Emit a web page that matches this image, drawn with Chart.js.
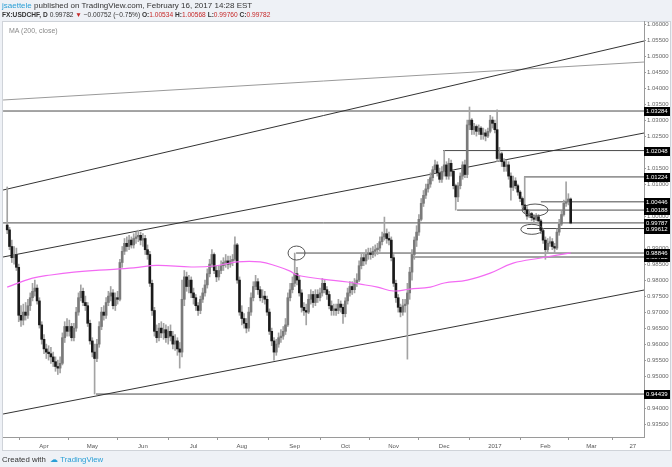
<!DOCTYPE html>
<html>
<head>
<meta charset="utf-8">
<script src="https://cdn.jsdelivr.net/npm/chart.js@4.4.0/dist/chart.umd.min.js"></script>
<style>
  body { margin: 0; width: 672px; height: 467px; background: #eef1f6; overflow: hidden; font-family: "Liberation Sans", Arial, sans-serif; }
  #wrap { position: relative; width: 672px; height: 467px; }
  canvas { position: absolute; left: 0; top: 0; }
  .hdr { position: absolute; left: 2px; color: #333; white-space: nowrap; }
  .red { color: #c62828; }
  .blue { color: #2a9fd6; }
  .ma { position: absolute; left: 9px; top: 27px; font-size: 7px; color: #8a8a8a; }
  .foot { position: absolute; left: 2px; top: 455px; font-size: 7.8px; color: #333; white-space: nowrap; }
</style>
</head>
<body>
<div id="wrap">
  <canvas id="chart" width="672" height="467"></canvas>
  <div class="hdr" style="top:1px; font-size:8px"><span class="blue">jsaettele</span> published on TradingView.com, February 16, 2017 14:28 EST</div>
  <div class="hdr" style="top:11px; font-size:6.6px"><b>FX:USDCHF, D</b> 0.99782 <span class="red">&#9660;</span> &minus;0.00752 (&minus;0.75%) <b>O:</b><span class="red">1.00534</span> <b>H:</b><span class="red">1.00568</span> <b>L:</b><span class="red">0.99760</span> <b>C:</b><span class="red">0.99782</span></div>
  <div class="ma">MA (200, close)</div>
  <div class="foot">Created with &nbsp;<span class="blue">&#9729;</span>&nbsp;<span class="blue">TradingView</span></div>
</div>
<script>
// daily bars, index 0 = 10 Mar 2016, index 245 = 16 Feb 2017
const firstOpen = 0.9972;
const closes = [
  0.9957, 0.9905, 0.9870, 0.9880, 0.9840, 0.9690, 0.9675, 0.9700, 0.9690, 0.9720,
  0.9745, 0.9765, 0.9775, 0.9735, 0.9660, 0.9615, 0.9585, 0.9575, 0.9570, 0.9560,
  0.9545, 0.9530, 0.9525, 0.9540, 0.9620, 0.9655, 0.9640, 0.9655, 0.9620, 0.9650,
  0.9700, 0.9745, 0.9765, 0.9730, 0.9720, 0.9665, 0.9610, 0.9575, 0.9555, 0.9600,
  0.9655, 0.9700, 0.9690, 0.9730, 0.9750, 0.9760, 0.9720, 0.9745, 0.9740, 0.9855,
  0.9890, 0.9915, 0.9905, 0.9925, 0.9910, 0.9930, 0.9935, 0.9940, 0.9925, 0.9930,
  0.9895, 0.9880, 0.9790, 0.9705, 0.9640, 0.9620, 0.9650, 0.9635, 0.9645, 0.9620,
  0.9640, 0.9625, 0.9600, 0.9610, 0.9585, 0.9575, 0.9740, 0.9810, 0.9780, 0.9800,
  0.9760, 0.9745, 0.9720, 0.9705, 0.9740, 0.9760, 0.9785, 0.9820, 0.9850, 0.9880,
  0.9830, 0.9810, 0.9830, 0.9845, 0.9855, 0.9860, 0.9850, 0.9860, 0.9865, 0.9910,
  0.9800, 0.9700, 0.9680, 0.9665, 0.9650, 0.9700, 0.9745, 0.9780, 0.9795, 0.9770,
  0.9745, 0.9750, 0.9740, 0.9700, 0.9640, 0.9610, 0.9575, 0.9600, 0.9620, 0.9625,
  0.9640, 0.9660, 0.9745, 0.9770, 0.9790, 0.9820, 0.9800, 0.9760, 0.9715, 0.9705,
  0.9700, 0.9740, 0.9755, 0.9730, 0.9755, 0.9745, 0.9760, 0.9790, 0.9770, 0.9755,
  0.9720, 0.9705, 0.9710, 0.9705, 0.9725, 0.9715, 0.9695, 0.9735, 0.9760, 0.9780,
  0.9770, 0.9790, 0.9800, 0.9845, 0.9870, 0.9860, 0.9880, 0.9885, 0.9880, 0.9890,
  0.9895, 0.9900, 0.9920, 0.9935, 0.9945, 0.9930, 0.9925, 0.9870, 0.9790, 0.9745,
  0.9715, 0.9700, 0.9720, 0.9725, 0.9760, 0.9825, 0.9880, 0.9925, 0.9950, 0.9990,
  1.0040, 1.0065, 1.0085, 1.0100, 1.0120, 1.0145, 1.0160, 1.0135, 1.0115, 1.0140,
  1.0160, 1.0125, 1.0165, 1.0140, 1.0095, 1.0060, 1.0095, 1.0125, 1.0160, 1.0130,
  1.0285, 1.0300, 1.0270, 1.0280, 1.0265, 1.0275, 1.0255, 1.0260, 1.0250, 1.0265,
  1.0300, 1.0290, 1.0270, 1.0180, 1.0195, 1.0170, 1.0155, 1.0160, 1.0125, 1.0090,
  1.0110, 1.0095, 1.0075, 1.0055, 1.0035, 1.0020, 1.0000, 1.0008, 0.9995, 0.9990,
  0.9998, 0.9985, 0.9955, 0.9925, 0.9895, 0.9915, 0.9920, 0.9905, 0.9900, 0.9950,
  0.9975, 1.0005, 1.0040, 1.0045, 1.00534, 0.99782
];
const highs = [
  1.0091, 0.9965, 0.9925, 0.9905, 0.9900, 0.9850, 0.9720, 0.9725, 0.9730, 0.9740,
  0.9760, 0.9790, 0.9800, 0.9785, 0.9745, 0.9670, 0.9630, 0.9600, 0.9595, 0.9590,
  0.9575, 0.9560, 0.9550, 0.9560, 0.9635, 0.9670, 0.9680, 0.9675, 0.9665, 0.9665,
  0.9715, 0.9760, 0.9785, 0.9775, 0.9750, 0.9730, 0.9675, 0.9620, 0.9600, 0.9615,
  0.9670, 0.9715, 0.9720, 0.9745, 0.9765, 0.9780, 0.9770, 0.9760, 0.9765, 0.9865,
  0.9905, 0.9930, 0.9935, 0.9940, 0.9935, 0.9945, 0.9950, 0.9956, 0.9950, 0.9945,
  0.9940, 0.9910, 0.9890, 0.9800, 0.9715, 0.9660, 0.9665, 0.9670, 0.9665, 0.9660,
  0.9655, 0.9660, 0.9640, 0.9630, 0.9620, 0.9605, 0.9800, 0.9830, 0.9825, 0.9815,
  0.9810, 0.9775, 0.9755, 0.9730, 0.9750, 0.9775, 0.9800, 0.9835, 0.9865, 0.9895,
  0.9885, 0.9845, 0.9845, 0.9860, 0.9870, 0.9880, 0.9875, 0.9875, 0.9880, 0.9935,
  0.9915, 0.9810, 0.9720, 0.9695, 0.9680, 0.9715, 0.9760, 0.9795, 0.9815, 0.9805,
  0.9780, 0.9770, 0.9765, 0.9750, 0.9710, 0.9650, 0.9620, 0.9615, 0.9635, 0.9645,
  0.9655, 0.9680, 0.9760, 0.9790, 0.9810, 0.98846, 0.9840, 0.9815, 0.9770, 0.9730,
  0.9725, 0.9755, 0.9770, 0.9765, 0.9770, 0.9770, 0.9775, 0.9805, 0.9800, 0.9780,
  0.9765, 0.9735, 0.9725, 0.9725, 0.9740, 0.9735, 0.9725, 0.9745, 0.9775, 0.9795,
  0.9795, 0.9805, 0.9820, 0.9860, 0.9885, 0.9885, 0.9895, 0.9900, 0.9900, 0.9905,
  0.9910, 0.9915, 0.9935, 0.9950, 0.9997, 0.9960, 0.9950, 0.9935, 0.9880, 0.9800,
  0.9755, 0.9725, 0.9740, 0.9740, 0.9790, 0.9840, 0.9895, 0.9935, 0.9970, 1.0005,
  1.0055, 1.0080, 1.0100, 1.0115, 1.0135, 1.0155, 1.0175, 1.0170, 1.0150, 1.0155,
  1.02048, 1.0170, 1.0180, 1.0175, 1.0145, 1.0100, 1.0105, 1.0135, 1.0170, 1.0175,
  1.0300, 1.0341, 1.0305, 1.0290, 1.0285, 1.0285, 1.0280, 1.0275, 1.0270, 1.0275,
  1.0315, 1.0310, 1.0300, 1.0332, 1.0215, 1.0200, 1.0180, 1.0175, 1.0170, 1.0135,
  1.0125, 1.0120, 1.0100, 1.0080, 1.0060, 1.01224, 1.0030, 1.0020, 1.0012, 1.0005,
  1.0008, 1.0005, 0.9990, 0.9960, 0.9935, 0.9930, 0.9935, 0.9930, 0.9915, 0.9960,
  0.9990, 1.0015, 1.0050, 1.0107, 1.0070, 1.00568
];
const lows = [
  0.9945, 0.9895, 0.9855, 0.9850, 0.9830, 0.9670, 0.9655, 0.9660, 0.9675, 0.9680,
  0.9705, 0.9735, 0.9750, 0.9725, 0.9650, 0.9600, 0.9570, 0.9555, 0.9550, 0.9540,
  0.9530, 0.9515, 0.9505, 0.9510, 0.9535, 0.9605, 0.9625, 0.9625, 0.9610, 0.9610,
  0.9640, 0.9690, 0.9735, 0.9720, 0.9705, 0.9655, 0.9600, 0.9560, 0.94439, 0.9545,
  0.9590, 0.9645, 0.9675, 0.9680, 0.9720, 0.9735, 0.9710, 0.9705, 0.9725, 0.9735,
  0.9840, 0.9880, 0.9890, 0.9895, 0.9900, 0.9900, 0.9915, 0.9920, 0.9910, 0.9905,
  0.9880, 0.9865, 0.9780, 0.9690, 0.9625, 0.9605, 0.9610, 0.9620, 0.9615, 0.9605,
  0.9600, 0.9610, 0.9585, 0.9580, 0.9565, 0.9525, 0.9560, 0.9720, 0.9765, 0.9760,
  0.9745, 0.9725, 0.9705, 0.9690, 0.9695, 0.9730, 0.9750, 0.9775, 0.9810, 0.9840,
  0.9820, 0.9795, 0.9800, 0.9820, 0.9830, 0.9840, 0.9835, 0.9840, 0.9845, 0.9860,
  0.9790, 0.9690, 0.9660, 0.9650, 0.9635, 0.9640, 0.9690, 0.9735, 0.9770, 0.9755,
  0.9735, 0.9730, 0.9725, 0.9690, 0.9630, 0.9595, 0.9550, 0.9565, 0.9590, 0.9605,
  0.9615, 0.9630, 0.9655, 0.9735, 0.9760, 0.9780, 0.9785, 0.9750, 0.9700, 0.9690,
  0.9660, 0.9695, 0.9725, 0.9715, 0.9720, 0.9730, 0.9735, 0.9750, 0.9760, 0.9740,
  0.9710, 0.9690, 0.9690, 0.9690, 0.9695, 0.9700, 0.9665, 0.9685, 0.9725, 0.9750,
  0.9755, 0.9760, 0.9780, 0.9795, 0.9835, 0.9845, 0.9850, 0.9865, 0.9865, 0.9870,
  0.9875, 0.9880, 0.9890, 0.9910, 0.9925, 0.9915, 0.9910, 0.9860, 0.9780, 0.9730,
  0.9700, 0.9685, 0.9690, 0.9700, 0.9553, 0.9740, 0.9800, 0.9865, 0.9905, 0.9940,
  0.9985, 1.0030, 1.0055, 1.0075, 1.0090, 1.0110, 1.0135, 1.0125, 1.0105, 1.0105,
  1.0125, 1.0115, 1.0115, 1.0125, 1.0085, 1.00188, 1.0045, 1.0085, 1.0115, 1.0120,
  1.0120, 1.0270, 1.0255, 1.0255, 1.0250, 1.0255, 1.0240, 1.0240, 1.0235, 1.0245,
  1.0260, 1.0275, 1.0260, 1.0170, 1.0170, 1.0155, 1.0140, 1.0140, 1.0115, 1.0050,
  1.0080, 1.0085, 1.0065, 1.0045, 1.0025, 1.0010, 0.9990, 0.9995, 0.9985, 0.9980,
  0.9985, 0.9975, 0.9945, 0.9915, 0.9865, 0.9885, 0.9905, 0.9895, 0.9885, 0.9895,
  0.9940, 0.9970, 1.0000, 1.0030, 1.0035, 0.99760
];

// 200-day moving average, read at a few bars
const maIdx = [0, 11, 19, 29, 40, 55, 65, 80, 90, 100, 110, 117, 123, 126, 137, 148, 153, 161, 168, 175, 184, 190, 200, 210, 220, 232, 245];
const maVals = [0.9778, 0.9806, 0.9816, 0.9825, 0.9831, 0.9838, 0.9846, 0.9841, 0.9844, 0.9857, 0.9857, 0.9844, 0.9828, 0.9816, 0.9803, 0.9794, 0.9788, 0.9778, 0.9766, 0.9772, 0.9778, 0.9791, 0.9800, 0.9822, 0.9853, 0.9869, 0.9885];

// x-axis ticks (bar index of first session of month)
const monthIdx = [16, 37, 59, 81, 102, 125, 147, 168, 190, 212, 234, 254, 272];
const monthLabels = ['Apr', 'May', 'Jun', 'Jul', 'Aug', 'Sep', 'Oct', 'Nov', 'Dec', '2017', 'Feb', 'Mar', '27'];
const yTicks = [0.935, 0.94, 0.945, 0.95, 0.955, 0.96, 0.965, 0.97, 0.975, 0.98, 0.985, 0.99, 0.995,
  1.0, 1.005, 1.01, 1.015, 1.02, 1.025, 1.03, 1.035, 1.04, 1.045, 1.05, 1.055, 1.06];

// drawn horizontal levels: price and start bar
const levelPrices = [1.03284, 1.02048, 1.01224, 1.00446, 1.00188, 0.99787, 0.99612, 0.98722, 0.98846, 0.94439];
const levelStarts = [-1.8, 189.5, 224.7, 232, 195.6, -1.8, 226, 176.4, 125.6, 38.6];

// sloped trend lines: [startIdx, startPrice, endIdx, endPrice]
const trendTop = [-1.8, 1.00815, 276.9, 1.05472];
const trendThin = [-1.8, 1.03628, 276.9, 1.04815];
const trendMid = [-1.8, 0.98722, 276.9, 1.02597];
const trendLow = [-1.8, 0.93815, 276.9, 0.97690];

// ellipses: [idx, price, rx px, ry px]
const circles = [[125.8, 0.98846, 8.5, 7], [229.5, 1.0019, 13, 6], [228.1, 0.99587, 11, 5]];

const X_MIN = -1.83, X_MAX = 276.87, Y_MIN = 0.93097, Y_MAX = 1.06097;
const UP = '#7a7a7a', DOWN = '#1a1a1a', WICK = '#a3a3a3';

const opens = closes.map((c, i) => (i === 0 ? firstOpen : closes[i - 1]));
const bodyData = closes.map((c, i) => ({ x: i, y: [opens[i], c] }));
const wickData = closes.map((c, i) => ({ x: i, y: [lows[i], highs[i]] }));
const bodyColors = closes.map((c, i) => (c >= opens[i] ? UP : DOWN));

const seg = (t) => [{ x: t[0], y: t[1] }, { x: t[2], y: t[3] }];
const lineDs = (data, color) => ({
  type: 'line', data, borderColor: color, borderWidth: 1, pointRadius: 0, tension: 0, order: 3
});

const datasets = [
  { type: 'bar', data: wickData, backgroundColor: WICK, barThickness: 1, grouped: false, order: 2 },
  { type: 'bar', data: bodyData, backgroundColor: bodyColors, barThickness: 2, minBarLength: 1, grouped: false, order: 1 },
  { type: 'line', data: maIdx.map((x, k) => ({ x, y: maVals[k] })), borderColor: '#f36af3', borderWidth: 1.2,
    pointRadius: 0, tension: 0.4, order: 0 },
  lineDs(seg(trendTop), '#333'),
  lineDs(seg(trendThin), '#9a9a9a'),
  lineDs(seg(trendMid), '#333'),
  lineDs(seg(trendLow), '#333')
];
levelPrices.forEach((p, k) => {
  datasets.push(lineDs([{ x: levelStarts[k], y: p }, { x: X_MAX, y: p }], '#4a4a4a'));
});

const frame = {
  id: 'frame',
  beforeDraw(chart) {
    const c = chart.ctx;
    c.save();
    c.fillStyle = '#ffffff';
    c.fillRect(2, 21, 669, 430);
    c.strokeStyle = '#cfd3d9';
    c.lineWidth = 1;
    c.strokeRect(2.5, 21.5, 668, 429);
    c.restore();
  },
  afterDraw(chart) {
    const c = chart.ctx, xs = chart.scales.x, ys = chart.scales.y;
    c.save();
    // ellipses
    c.strokeStyle = '#555';
    c.lineWidth = 1;
    circles.forEach(([i, p, rx, ry]) => {
      c.beginPath();
      c.ellipse(xs.getPixelForValue(i), ys.getPixelForValue(p), rx, ry, 0, 0, Math.PI * 2);
      c.stroke();
    });
    // price boxes on the axis
    c.font = '6px "Liberation Sans", Arial, sans-serif';
    c.textBaseline = 'middle';
    levelPrices.forEach((p) => {
      const y = Math.round(ys.getPixelForValue(p));
      c.fillStyle = '#000';
      c.fillRect(644, y - 4, 26, 9);
      c.fillStyle = '#fff';
      c.fillText(p.toFixed(5), 646, y + 0.5);
    });
    c.restore();
  }
};

new Chart(document.getElementById('chart'), {
  type: 'bar',
  data: { datasets },
  options: {
    responsive: false,
    animation: false,
    layout: { padding: { left: 3, top: 21, right: 0, bottom: 16 } },
    plugins: { legend: { display: false }, tooltip: { enabled: false } },
    scales: {
      x: {
        type: 'linear', min: X_MIN, max: X_MAX, offset: false,
        grid: { display: true, drawOnChartArea: false, tickLength: 3, color: '#999' },
        border: { color: '#9a9a9a' },
        afterBuildTicks: (s) => { s.ticks = monthIdx.map((v) => ({ value: v })); },
        afterFit: (s) => { s.height = 14; },
        ticks: {
          autoSkip: false, maxRotation: 0, padding: 3, color: '#555',
          font: { size: 6, family: '"Liberation Sans", Arial, sans-serif' },
          callback: (v) => monthLabels[monthIdx.indexOf(v)]
        }
      },
      y: {
        type: 'linear', position: 'right', min: Y_MIN, max: Y_MAX, beginAtZero: false,
        grid: { display: true, drawOnChartArea: false, tickLength: 2, color: '#999' },
        border: { color: '#9a9a9a' },
        afterBuildTicks: (s) => { s.ticks = yTicks.map((v) => ({ value: v })); },
        afterFit: (s) => { s.width = 28; },
        ticks: {
          autoSkip: false, padding: 1, color: '#666',
          font: { size: 6, family: '"Liberation Sans", Arial, sans-serif' },
          callback: (v) => Number(v).toFixed(5)
        }
      }
    }
  },
  plugins: [frame]
});
</script>
</body>
</html>
